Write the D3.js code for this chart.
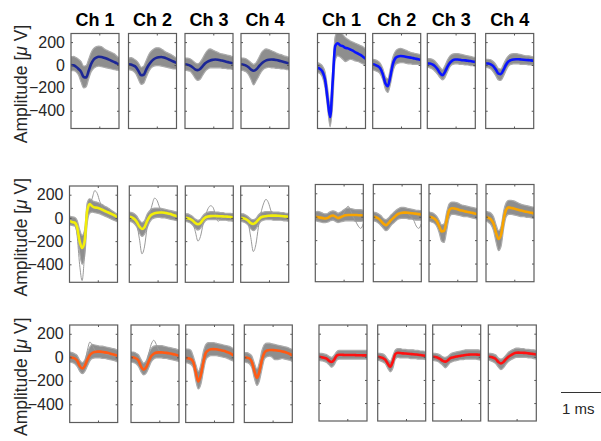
<!DOCTYPE html>
<html>
<head>
<meta charset="utf-8">
<script src="https://cdn.jsdelivr.net/npm/d3@7"></script>
<style>
  body { margin: 0; background: #fff; }
  text { font-family: "Liberation Sans", Arial, sans-serif; }
</style>
</head>
<body>
<svg id="chart" width="601" height="441"></svg>
<script>
// ---- data (µV, 20 samples at 16 kHz) ----
var channels = ["Ch 1", "Ch 2", "Ch 3", "Ch 4"];
var yTicks = [200, 0, -200, -400];
var xTicks = [0.7];
var sampleTimes = [0, 0.0625, 0.125, 0.1875, 0.25, 0.3125, 0.375, 0.4375, 0.5, 0.5625,
  0.625, 0.6875, 0.75, 0.8125, 0.875, 0.9375, 1, 1.0625, 1.125, 1.1875];

// unit A (top left)
var meanA = [
  [0, -3, -15, -35, -60, -105, -110, -50, 10, 48, 65, 72, 70, 64, 56, 47, 37, 27, 16, 6],
  [5, 3, -5, -20, -55, -90, -85, -40, 0, 30, 50, 62, 68, 70, 66, 58, 48, 38, 28, 18],
  [5, 2, -5, -20, -38, -45, -35, -10, 15, 30, 40, 45, 48, 46, 42, 36, 30, 25, 20, 15],
  [5, 2, -5, -20, -40, -50, -40, -15, 10, 28, 40, 46, 48, 47, 43, 38, 32, 26, 20, 15]];
var upperA = [
  [70, 75, 65, 50, 30, -10, -5, 50, 110, 145, 160, 165, 160, 145, 130, 120, 110, 100, 80, 60],
  [60, 65, 55, 40, 15, -20, -10, 40, 90, 120, 140, 150, 150, 140, 125, 110, 100, 90, 75, 60],
  [60, 60, 55, 40, 20, 10, 25, 60, 100, 130, 140, 130, 120, 110, 100, 95, 90, 85, 80, 70],
  [60, 60, 55, 40, 20, 5, 20, 60, 105, 130, 140, 135, 125, 115, 105, 95, 90, 80, 75, 65]];
var lowerA = [
  [-50, -50, -60, -90, -150, -200, -190, -120, -60, -30, -15, -10, -15, -20, -25, -30, -35, -40, -45, -45],
  [-40, -45, -55, -80, -130, -170, -160, -110, -60, -25, -10, -5, -5, -10, -15, -20, -25, -30, -35, -35],
  [-45, -50, -55, -80, -115, -135, -125, -90, -55, -35, -25, -25, -25, -25, -25, -30, -30, -35, -35, -40],
  [-45, -50, -60, -85, -130, -175, -140, -100, -60, -35, -25, -20, -25, -25, -30, -30, -35, -35, -40, -40]];

// unit B (top right)
var meanB = [
  [-25, -35, -60, -130, -300, -455, -150, 165, 190, 172, 165, 150, 145, 135, 125, 110, 100, 88, 72, 55],
  [5, 0, -10, -30, -80, -160, -185, -100, 10, 60, 75, 78, 76, 72, 68, 64, 60, 55, 50, 44],
  [15, 12, 5, -10, -35, -70, -90, -60, -15, 20, 40, 48, 48, 45, 42, 40, 37, 34, 30, 27],
  [15, 12, 5, -10, -40, -75, -80, -45, 0, 30, 42, 48, 50, 50, 48, 46, 44, 42, 40, 36]];
var upperB = [
  [20, 10, -10, -60, -200, -350, -50, 250, 290, 285, 265, 240, 225, 210, 200, 190, 180, 170, 160, 140],
  [50, 45, 35, 15, -30, -100, -120, -30, 70, 120, 140, 145, 140, 130, 120, 110, 105, 100, 95, 90],
  [55, 55, 50, 35, 10, -20, -40, -5, 45, 80, 95, 100, 100, 95, 90, 85, 80, 75, 70, 65],
  [50, 50, 45, 30, 5, -30, -35, 5, 50, 80, 95, 100, 100, 95, 90, 85, 80, 80, 75, 70]];
var lowerB = [
  [-65, -75, -110, -200, -380, -540, -350, 40, 80, 70, 50, 30, 40, 50, 45, 35, 30, 20, 10, 0],
  [-40, -50, -60, -80, -130, -210, -240, -170, -60, 0, 15, 20, 20, 15, 10, 10, 5, 5, 5, 0],
  [-20, -25, -35, -55, -80, -110, -130, -110, -60, -15, 5, 10, 10, 5, 5, 0, 0, -5, -5, -10],
  [-20, -25, -35, -60, -95, -130, -135, -100, -50, -10, 5, 10, 10, 10, 5, 5, 5, 0, 0, 0]];

// unit C (middle left)
var meanC = [
  [-25, -35, -40, -80, -200, -260, -200, 60, 120, 100, 90, 88, 80, 70, 60, 50, 40, 30, 20, 5],
  [10, 5, -10, -35, -75, -95, -80, -30, 10, 30, 40, 45, 47, 47, 45, 40, 35, 28, 20, 12],
  [0, -3, -10, -25, -45, -55, -45, -15, 5, 12, 15, 16, 16, 15, 14, 13, 12, 10, 8, 5],
  [0, -3, -10, -25, -45, -52, -40, -15, 5, 12, 15, 18, 20, 20, 20, 18, 16, 14, 12, 10]];
var upperC = [
  [15, 10, 5, -20, -100, -150, -100, 130, 165, 150, 140, 135, 125, 115, 100, 90, 75, 60, 45, 30],
  [50, 45, 35, 15, -20, -40, -25, 30, 60, 80, 85, 85, 85, 80, 75, 70, 65, 60, 55, 50],
  [35, 35, 25, 10, -10, -20, -10, 20, 40, 50, 55, 55, 50, 50, 45, 45, 40, 40, 40, 35],
  [35, 35, 25, 10, -10, -15, -5, 25, 45, 50, 55, 55, 55, 50, 50, 50, 45, 45, 40, 40]];
var lowerC = [
  [-60, -65, -70, -130, -300, -400, -330, -50, 40, 50, 45, 40, 35, 25, 15, 5, -5, -15, -25, -35],
  [-30, -35, -50, -80, -130, -160, -140, -90, -40, -10, 0, 5, 5, 0, 0, -5, -10, -15, -20, -25],
  [-30, -35, -45, -65, -90, -105, -90, -55, -25, -15, -15, -15, -15, -15, -20, -20, -20, -25, -25, -30],
  [-30, -35, -45, -65, -95, -110, -95, -60, -30, -20, -15, -15, -15, -20, -20, -20, -20, -25, -25, -30]];
var outliersC = [
  [[-30, -40, -50, -150, -400, -540, -300, 50, 110, 90, 85, 80, 70, 60, 50, 40, 30, 20, 10, 0],
   [-20, -30, -40, -80, -180, -230, -150, 40, 100, 170, 235, 210, 140, 90, 60, 45, 35, 25, 15, 5]],
  [[0, -5, -20, -60, -180, -310, -250, -90, 20, 110, 170, 150, 90, 50, 35, 30, 25, 20, 15, 10]],
  [[0, -5, -15, -40, -120, -200, -160, -60, 20, 80, 105, 90, 20, -30, -10, 5, 10, 10, 5, 0]],
  [[0, -5, -15, -50, -170, -290, -230, -80, 40, 120, 160, 130, 60, 20, 10, 10, 10, 5, 5, 0]]];

// unit D (middle right)
var meanD = [
  [0, -3, -8, -12, -15, -10, 5, 10, 0, -12, -5, 5, 12, 15, 15, 15, 15, 13, 12, 10],
  [0, -5, -15, -35, -60, -73, -55, -30, -10, 10, 25, 32, 35, 35, 33, 30, 28, 25, 22, 20],
  [0, -5, -15, -35, -80, -125, -120, -30, 55, 72, 70, 65, 58, 52, 46, 42, 38, 33, 28, 23],
  [0, -10, -25, -60, -140, -190, -150, -20, 60, 80, 75, 70, 64, 58, 52, 47, 42, 38, 33, 28]];
var upperD = [
  [40, 45, 40, 30, 25, 30, 45, 50, 45, 30, 40, 55, 70, 75, 70, 65, 60, 60, 60, 55],
  [40, 35, 25, 10, -15, -25, -10, 15, 35, 55, 70, 80, 80, 75, 70, 65, 60, 55, 55, 50],
  [40, 35, 25, 5, -30, -70, -60, 40, 110, 125, 125, 120, 110, 100, 95, 90, 85, 80, 75, 70],
  [45, 40, 30, 0, -70, -120, -80, 50, 120, 140, 140, 135, 125, 115, 105, 100, 95, 90, 85, 80]];
var lowerD = [
  [-35, -40, -45, -50, -50, -45, -35, -30, -40, -50, -45, -40, -35, -35, -35, -35, -40, -40, -40, -35],
  [-35, -40, -55, -75, -100, -120, -105, -75, -55, -35, -20, -15, -15, -15, -20, -20, -25, -30, -30, -30],
  [-35, -45, -55, -80, -135, -210, -220, -120, -10, 20, 20, 15, 10, 5, 0, 0, -5, -10, -15, -20],
  [-35, -50, -70, -120, -220, -290, -250, -100, 0, 20, 20, 15, 10, 5, 0, 0, -5, -5, -10, -15]];
var outliersD = [
  [[0, -5, -10, -15, -20, -15, 0, 5, -5, -10, 0, 20, 60, 90, 50, 0, -40, -80, -100, -60]],
  [[0, -5, -15, -40, -70, -80, -60, -30, -5, 15, 30, 40, 40, 35, 20, 0, -30, -80, -100, -60]],
  [], []];

// unit E (bottom left)
var meanE = [
  [0, -3, -10, -30, -75, -95, -70, -20, 20, 38, 45, 48, 48, 45, 42, 38, 32, 26, 20, 12],
  [0, -2, -10, -30, -80, -105, -85, -35, 10, 30, 40, 42, 42, 40, 38, 35, 30, 25, 20, 12],
  [-5, -8, -15, -40, -130, -205, -150, -40, 40, 60, 68, 70, 68, 65, 60, 55, 48, 40, 30, 15],
  [0, -3, -10, -40, -120, -175, -120, -20, 40, 58, 62, 62, 60, 58, 55, 50, 45, 38, 28, 15]];
var upperE = [
  [45, 40, 30, 15, -25, -45, -20, 40, 90, 110, 105, 100, 95, 95, 90, 85, 80, 75, 70, 60],
  [45, 45, 35, 20, -20, -50, -30, 30, 75, 95, 100, 100, 100, 95, 90, 85, 80, 75, 70, 60],
  [70, 70, 60, 10, -60, -120, -60, 50, 110, 125, 125, 125, 120, 115, 110, 105, 100, 95, 85, 70],
  [40, 40, 30, 10, -50, -100, -40, 60, 110, 120, 120, 115, 110, 105, 100, 95, 90, 85, 75, 65]];
var lowerE = [
  [-40, -45, -55, -80, -120, -140, -120, -75, -30, -10, -5, -5, -5, -10, -10, -15, -20, -25, -30, -40],
  [-40, -45, -55, -80, -125, -150, -135, -90, -40, -15, -5, -5, -5, -10, -10, -15, -20, -25, -30, -35],
  [-45, -50, -60, -90, -200, -270, -230, -120, -20, 5, 15, 15, 15, 10, 5, 0, -5, -15, -25, -35],
  [-40, -45, -55, -90, -180, -240, -200, -100, -15, 5, 10, 0, -20, -20, -15, -10, -15, -20, -25, -35]];
var outliersE = [
  [[0, -5, -10, -30, -60, -80, -40, 60, 130, 100, 60, 45, 40, 35, 30, 25, 20, 15, 10, 5]],
  [[0, -5, -10, -30, -70, -100, -60, 30, 110, 145, 110, 60, 45, 40, 35, 30, 25, 20, 15, 10]],
  [], []];

// unit F (bottom right)
var meanF = [
  [0, -3, -8, -15, -35, -45, -25, 10, 18, 18, 16, 15, 15, 15, 15, 14, 14, 13, 12, 12],
  [0, -3, -10, -25, -60, -85, -40, 25, 35, 33, 30, 28, 26, 24, 22, 20, 18, 15, 12, 9],
  [0, -2, -8, -20, -35, -42, -30, -12, -5, 0, 5, 8, 12, 16, 18, 20, 20, 20, 18, 17],
  [0, -2, -8, -20, -45, -58, -45, -20, 0, 15, 28, 35, 36, 35, 34, 33, 30, 27, 24, 20]];
var upperF = [
  [30, 30, 25, 20, 5, -5, 15, 45, 55, 55, 55, 55, 55, 55, 55, 55, 55, 55, 55, 55],
  [30, 30, 25, 10, -20, -40, 10, 60, 70, 70, 65, 65, 60, 60, 60, 55, 55, 50, 50, 45],
  [30, 30, 25, 15, 0, -5, 5, 25, 35, 40, 45, 50, 55, 60, 60, 60, 60, 60, 60, 55],
  [30, 30, 25, 15, -10, -20, -10, 15, 40, 55, 65, 75, 75, 70, 70, 65, 65, 60, 60, 55]];
var lowerF = [
  [-30, -35, -40, -50, -70, -90, -70, -30, -20, -20, -20, -20, -20, -20, -20, -20, -20, -20, -20, -20],
  [-30, -35, -45, -60, -100, -130, -100, -20, -5, -10, -10, -10, -10, -15, -15, -15, -20, -20, -20, -25],
  [-30, -35, -40, -55, -75, -95, -75, -50, -40, -35, -30, -25, -25, -20, -20, -20, -20, -20, -25, -30],
  [-30, -35, -45, -60, -90, -110, -95, -65, -40, -25, -15, -5, -5, -5, -5, -5, -10, -10, -15, -20]];

// ---- layout ----
var yDomain = [-555, 275];
var units = [
  {mean: meanA, up: upperA, lo: lowerA, out: null, color: "#1c2796", top: 33.5, h: 95, lefts: [71, 128.5, 185, 241], labels: true, titles: true},
  {mean: meanB, up: upperB, lo: lowerB, out: null, color: "#0a14ff", top: 33.5, h: 95, lefts: [317.5, 372.7, 427.3, 485.7], labels: false, titles: true},
  {mean: meanC, up: upperC, lo: lowerC, out: outliersC, color: "#f2ee0a", top: 186, h: 96.3, lefts: [69.5, 129.3, 185.3, 240.7], labels: true, titles: false},
  {mean: meanD, up: upperD, lo: lowerD, out: outliersD, color: "#f8a400", top: 184.5, h: 97.2, lefts: [315.3, 373.3, 429, 486], labels: false, titles: false},
  {mean: meanE, up: upperE, lo: lowerE, out: outliersE, color: "#ff5a14", top: 325, h: 97.5, lefts: [69.7, 131, 185.7, 244.3], labels: true, titles: false},
  {mean: meanF, up: upperF, lo: lowerF, out: null, color: "#ff1010", top: 325, h: 96, lefts: [319, 377.7, 432.7, 488.3], labels: false, titles: false}
];
var panelW = 48;

var svg = d3.select("#chart");
var x = d3.scaleLinear().domain(d3.extent(sampleTimes)).range([0, panelW]);
var clipId = 0;

units.forEach(function(u) {
  var y = d3.scaleLinear().domain(yDomain).range([u.h, 0]);

  var area = d3.area()
    .x(function(d, i) { return x(sampleTimes[i]); })
    .y0(function(d) { return y(d[0]); })
    .y1(function(d) { return y(d[1]); })
    .curve(d3.curveMonotoneX);
  var line = d3.line()
    .x(function(d, i) { return x(sampleTimes[i]); })
    .y(function(d) { return y(d); })
    .curve(d3.curveMonotoneX);

  channels.forEach(function(ch, c) {
    var g = svg.append("g").attr("transform", "translate(" + u.lefts[c] + "," + u.top + ")");
    clipId++;
    g.append("clipPath").attr("id", "clip" + clipId)
      .append("rect").attr("width", panelW).attr("height", u.h);
    var body = g.append("g").attr("clip-path", "url(#clip" + clipId + ")");

    var band = u.lo[c].map(function(v, i) { return [v, u.up[c][i]]; });
    body.append("path").datum(band)
      .attr("d", area)
      .attr("fill", "#8e8e8e")
      .attr("stroke", "#ababab")
      .attr("stroke-width", 1.2);

    if (u.out) {
      u.out[c].forEach(function(tr) {
        body.append("path").datum(tr)
          .attr("d", line)
          .attr("fill", "none")
          .attr("stroke", "#9a9a9a")
          .attr("stroke-width", 1);
      });
    }

    body.append("path").datum(u.mean[c])
      .attr("d", line)
      .attr("fill", "none")
      .attr("stroke", u.color)
      .attr("stroke-width", 2.6)
      .attr("stroke-linejoin", "round");

    // inward ticks on all four sides
    var left = g.append("g").call(d3.axisLeft(y).tickValues(yTicks).tickSizeInner(-2).tickSizeOuter(0).tickPadding(6)
      .tickFormat(u.labels && c === 0 ? d3.format("d") : ""));
    var right = g.append("g").attr("transform", "translate(" + panelW + ",0)")
      .call(d3.axisRight(y).tickValues(yTicks).tickSizeInner(-2).tickSizeOuter(0).tickFormat(""));
    var bottom = g.append("g").attr("transform", "translate(0," + u.h + ")")
      .call(d3.axisBottom(x).tickValues(xTicks).tickSizeInner(-2).tickSizeOuter(0).tickFormat(""));
    var top = g.append("g")
      .call(d3.axisTop(x).tickValues(xTicks).tickSizeInner(-2).tickSizeOuter(0).tickFormat(""));
    [left, right, bottom, top].forEach(function(a) {
      a.select(".domain").remove();
      a.selectAll("line").attr("stroke", "#555");
      a.selectAll("text")
        .attr("fill", "#262626")
        .style("font-size", "16px")
        .style("font-family", "'Liberation Sans', Arial, sans-serif");
    });

    g.append("rect")
      .attr("width", panelW).attr("height", u.h)
      .attr("fill", "none")
      .attr("stroke", "#5c5c5c")
      .attr("stroke-width", 1.2);

    if (u.titles) {
      g.append("text")
        .attr("x", panelW / 2).attr("y", -8)
        .attr("text-anchor", "middle")
        .style("font-size", "18px")
        .style("font-weight", "bold")
        .attr("fill", "#000")
        .text(ch);
    }
  });

  if (u.labels) {
    var label = svg.append("text")
      .attr("transform", "translate(27," + (u.top + u.h / 2 + 3) + ") rotate(-90)")
      .attr("text-anchor", "middle")
      .attr("fill", "#262626")
      .style("font-size", "17.5px");
    label.append("tspan").text("Amplitude [");
    label.append("tspan").style("font-style", "italic").text("\u03bc");
    label.append("tspan").text(" V]");
  }
});

// 1 ms scale bar
svg.append("line")
  .attr("x1", 561).attr("x2", 561 + x(1) - x(0))
  .attr("y1", 392.5).attr("y2", 392.5)
  .attr("stroke", "#333").attr("stroke-width", 1);
svg.append("text")
  .attr("x", 562).attr("y", 414)
  .attr("fill", "#262626")
  .style("font-size", "15px")
  .text("1 ms");
</script>
</body>
</html>
